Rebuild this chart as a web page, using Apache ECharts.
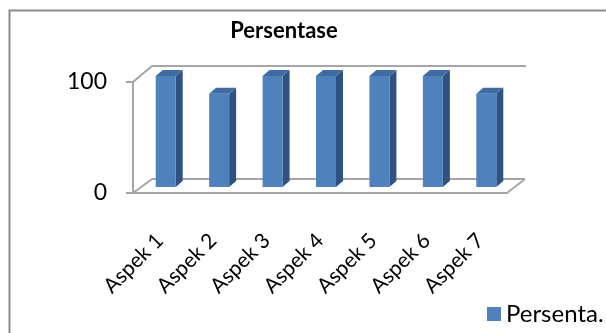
<!DOCTYPE html>
<html>
<head>
<meta charset="utf-8">
<title>Persentase</title>
<script src="https://cdn.jsdelivr.net/npm/echarts@6/dist/echarts.min.js"></script>
<style>
  html, body { margin: 0; padding: 0; background: #fff; }
  #main { width: 606px; height: 333px; }
</style>
</head>
<body>
<div id="main"></div>
<script>
// data
var categories = ['Aspek 1', 'Aspek 2', 'Aspek 3', 'Aspek 4', 'Aspek 5', 'Aspek 6', 'Aspek 7'];
var persentase = [100, 84, 100, 100, 100, 100, 84];
var yTicks = [0, 100];

var FONT = 'Lato';
var LINE = '#a6a6a6';

// back wall / floor of the fake 3d box
function renderFrame(params, api) {
  var band = api.size([1, 0])[0];
  var a = api.coord([0, yTicks[0]]);
  var b = api.coord([categories.length - 1, yTicks[1]]);
  var x0 = a[0] - band / 2, x1 = b[0] + band / 2;
  var yb = a[1], yt = b[1];
  var st = { stroke: LINE, lineWidth: 2 };
  function ln(p, q) {
    return { type: 'line', shape: { x1: p[0], y1: p[1], x2: q[0], y2: q[1] }, style: st, silent: true };
  }
  return {
    type: 'group',
    children: [
      ln([x0, yt], [x0 + 19, yt - 16]),
      ln([x0 + 19, yt - 16], [x1 + 19, yt - 16]),
      ln([x0, yb], [x0 + 19, yb - 14]),
      ln([x0 + 19, yb - 14], [x1 + 18, yb - 14]),
      ln([x1, yb], [x1 + 18, yb - 14])
    ]
  };
}

// 3d looking columns
function renderBar(params, api) {
  var i = api.value(0);
  var p0 = api.coord([i, 0]);
  var p1 = api.coord([i, api.value(1)]);
  var w = 20, ox = 6, oy = -6, dx = 7, dy = -6;
  var xl = p0[0] + ox - w / 2, xr = xl + w;
  var yt = p1[1] + oy, yb = p0[1] + oy;
  return {
    type: 'group',
    children: [
      { type: 'polygon', shape: { points: [[xr, yt], [xr + dx, yt + dy], [xr + dx, yb + dy], [xr, yb]] },
        style: { fill: '#2f5283' } },
      { type: 'polygon', shape: { points: [[xl, yt], [xl + dx, yt + dy], [xr + dx, yt + dy], [xr, yt]] },
        style: { fill: '#3f6ba3' } },
      { type: 'rect', shape: { x: xl, y: yt, width: w, height: yb - yt },
        style: { fill: '#4f81bd' } }
    ]
  };
}

var chart = echarts.init(document.getElementById('main'));
chart.setOption({
  backgroundColor: '#fff',
  animation: false,
  title: {
    text: 'Persentase',
    left: 279, top: 15, textAlign: 'center',
    textStyle: { fontFamily: FONT, fontSize: 22, fontWeight: 'bold', color: '#000' }
  },
  legend: {
    left: 482, top: 297,
    icon: 'rect', itemWidth: 14, itemHeight: 14, itemGap: 6,
    data: ['Persentase'],
    formatter: function () { return 'Persenta.'; },
    textStyle: { fontFamily: FONT, fontSize: 24, color: '#000' }
  },
  grid: { left: 133, right: 99, top: 82, bottom: 140 },
  xAxis: {
    type: 'category',
    data: categories,
    axisLine: { lineStyle: { color: LINE, width: 2 } },
    axisTick: { length: 7, lineStyle: { color: LINE, width: 2 } },
    axisLabel: { rotate: 45, margin: 44, fontFamily: FONT, fontSize: 21, color: '#000' }
  },
  yAxis: {
    type: 'value', min: 0, max: 100, interval: 100,
    axisLine: { show: true, lineStyle: { color: LINE, width: 2 } },
    axisTick: { show: true, length: 7, lineStyle: { color: LINE, width: 2 } },
    axisLabel: { margin: 26, fontFamily: FONT, fontSize: 23, color: '#000' },
    splitLine: { show: false }
  },
  graphic: [{
    type: 'rect', left: 7, top: 8, silent: true,
    shape: { width: 640, height: 360 },
    style: { fill: 'none', stroke: '#8c8c8c', lineWidth: 2 }
  }],
  series: [
    {
      type: 'custom', name: 'frame', renderItem: renderFrame,
      data: [[0, 0]], z: 1, silent: true, legendHoverLink: false
    },
    {
      type: 'custom', name: 'Persentase', renderItem: renderBar,
      itemStyle: { color: '#4f81bd' },
      data: persentase.map(function (v, i) { return [i, v]; }),
      encode: { x: 0, y: 1 }, z: 3
    }
  ]
});
</script>
</body>
</html>
